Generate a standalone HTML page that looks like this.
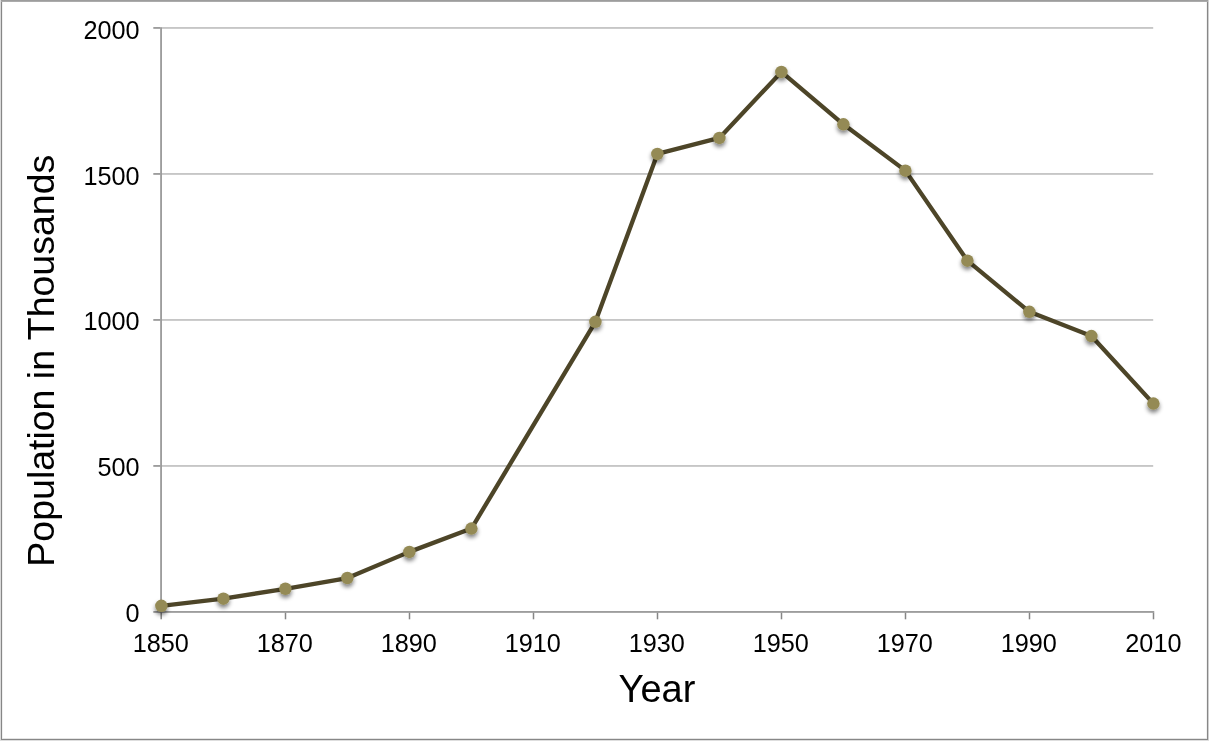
<!DOCTYPE html>
<html><head><meta charset="utf-8"><title>Population chart</title>
<style>
html,body{margin:0;padding:0;background:#fff;}
body{width:1209px;height:741px;overflow:hidden;}
svg{display:block;}
text{font-family:"Liberation Sans",Arial,Helvetica,sans-serif;fill:#000;}
.tick{font-size:26px;}
.title{font-size:38px;}
</style></head><body>
<svg width="1209" height="741" viewBox="0 0 1209 741">
<defs>
<filter id="sh" x="-5%" y="-5%" width="110%" height="115%">
<feGaussianBlur in="SourceAlpha" stdDeviation="2"/>
<feOffset dx="0" dy="3.2" result="b"/>
<feComponentTransfer><feFuncA type="linear" slope="0.5"/></feComponentTransfer>
<feMerge><feMergeNode/><feMergeNode in="SourceGraphic"/></feMerge>
</filter>
</defs>
<rect x="0" y="0" width="1209" height="741" fill="#fff"/>
<!-- outer border -->
<g shape-rendering="crispEdges">
<rect x="0" y="0" width="1" height="741" fill="#dadada"/>
<rect x="1208" y="0" width="1" height="741" fill="#d0d0d0"/>
<rect x="0" y="740" width="1209" height="1" fill="#dedede"/>
<rect x="2" y="2" width="1" height="737" fill="#f0f0f0"/>
<rect x="1206" y="2" width="1" height="737" fill="#f2f2f2"/>
<rect x="2" y="738" width="1205" height="1" fill="#e4e4e4"/>
<rect x="1" y="0" width="1" height="740" fill="#868686"/>
<rect x="1207" y="0" width="1" height="740" fill="#878787"/>
<rect x="1" y="739" width="1207" height="1" fill="#878787"/>
<rect x="1" y="0" width="1207" height="1" fill="#9d9d9d"/>
<rect x="1" y="1" width="1207" height="1" fill="#ababab"/>
</g>

<rect x="161.8" y="465.20" width="991.40" height="1.5" fill="#b8b8b8"/>
<rect x="161.8" y="319.20" width="991.40" height="1.5" fill="#b8b8b8"/>
<rect x="161.8" y="173.20" width="991.40" height="1.5" fill="#b8b8b8"/>
<rect x="161.8" y="27.20" width="991.40" height="1.5" fill="#b8b8b8"/>
<rect x="160.3" y="27.20" width="1.5" height="585.50" fill="#868686"/>
<rect x="153.3" y="611.20" width="1000.95" height="1.5" fill="#868686"/>
<rect x="153.3" y="465.20" width="7" height="1.5" fill="#868686"/>
<rect x="153.3" y="319.20" width="7" height="1.5" fill="#868686"/>
<rect x="153.3" y="173.20" width="7" height="1.5" fill="#868686"/>
<rect x="153.3" y="27.20" width="7" height="1.5" fill="#868686"/>
<rect x="160.45" y="612.70" width="1.5" height="6.6" fill="#868686"/>
<rect x="284.75" y="612.70" width="1.5" height="6.6" fill="#868686"/>
<rect x="408.75" y="612.70" width="1.5" height="6.6" fill="#868686"/>
<rect x="532.75" y="612.70" width="1.5" height="6.6" fill="#868686"/>
<rect x="656.75" y="612.70" width="1.5" height="6.6" fill="#868686"/>
<rect x="780.75" y="612.70" width="1.5" height="6.6" fill="#868686"/>
<rect x="904.75" y="612.70" width="1.5" height="6.6" fill="#868686"/>
<rect x="1028.75" y="612.70" width="1.5" height="6.6" fill="#868686"/>
<rect x="1152.75" y="612.70" width="1.5" height="6.6" fill="#868686"/>
<polyline fill="none" stroke="#4d4528" stroke-width="4.3" stroke-linejoin="round" stroke-linecap="round" points="161.40,605.86 223.40,598.68 285.40,588.76 347.40,578.03 409.40,551.88 471.40,528.57 595.40,321.85 657.40,153.95 719.40,137.95 781.40,71.93 843.40,124.32 905.40,170.65 967.40,260.63 1029.40,311.83 1091.40,336.06 1153.40,403.58"/>
<g filter="url(#sh)">
<circle cx="161.40" cy="605.86" r="6.25" fill="#948a54"/>
<circle cx="223.40" cy="598.68" r="6.25" fill="#948a54"/>
<circle cx="285.40" cy="588.76" r="6.25" fill="#948a54"/>
<circle cx="347.40" cy="578.03" r="6.25" fill="#948a54"/>
<circle cx="409.40" cy="551.88" r="6.25" fill="#948a54"/>
<circle cx="471.40" cy="528.57" r="6.25" fill="#948a54"/>
<circle cx="595.40" cy="321.85" r="6.25" fill="#948a54"/>
<circle cx="657.40" cy="153.95" r="6.25" fill="#948a54"/>
<circle cx="719.40" cy="137.95" r="6.25" fill="#948a54"/>
<circle cx="781.40" cy="71.93" r="6.25" fill="#948a54"/>
<circle cx="843.40" cy="124.32" r="6.25" fill="#948a54"/>
<circle cx="905.40" cy="170.65" r="6.25" fill="#948a54"/>
<circle cx="967.40" cy="260.63" r="6.25" fill="#948a54"/>
<circle cx="1029.40" cy="311.83" r="6.25" fill="#948a54"/>
<circle cx="1091.40" cy="336.06" r="6.25" fill="#948a54"/>
<circle cx="1153.40" cy="403.58" r="6.25" fill="#948a54"/>
</g>
<text class="tick" x="139.6" y="622.00" text-anchor="end" textLength="14.06" lengthAdjust="spacingAndGlyphs">0</text>
<text class="tick" x="139.6" y="476.00" text-anchor="end" textLength="42.17" lengthAdjust="spacingAndGlyphs">500</text>
<text class="tick" x="139.6" y="330.00" text-anchor="end" textLength="56.22" lengthAdjust="spacingAndGlyphs">1000</text>
<text class="tick" x="139.6" y="185.00" text-anchor="end" textLength="56.22" lengthAdjust="spacingAndGlyphs">1500</text>
<text class="tick" x="139.6" y="39.00" text-anchor="end" textLength="56.22" lengthAdjust="spacingAndGlyphs">2000</text>
<text class="tick" x="160.80" y="652" text-anchor="middle" textLength="56.22" lengthAdjust="spacingAndGlyphs">1850</text>
<text class="tick" x="284.80" y="652" text-anchor="middle" textLength="56.22" lengthAdjust="spacingAndGlyphs">1870</text>
<text class="tick" x="408.80" y="652" text-anchor="middle" textLength="56.22" lengthAdjust="spacingAndGlyphs">1890</text>
<text class="tick" x="532.80" y="652" text-anchor="middle" textLength="56.22" lengthAdjust="spacingAndGlyphs">1910</text>
<text class="tick" x="656.80" y="652" text-anchor="middle" textLength="56.22" lengthAdjust="spacingAndGlyphs">1930</text>
<text class="tick" x="780.80" y="652" text-anchor="middle" textLength="56.22" lengthAdjust="spacingAndGlyphs">1950</text>
<text class="tick" x="904.80" y="652" text-anchor="middle" textLength="56.22" lengthAdjust="spacingAndGlyphs">1970</text>
<text class="tick" x="1028.80" y="652" text-anchor="middle" textLength="56.22" lengthAdjust="spacingAndGlyphs">1990</text>
<text class="tick" x="1153.40" y="652" text-anchor="middle" textLength="56.22" lengthAdjust="spacingAndGlyphs">2010</text>
<text class="title" x="657" y="702" text-anchor="middle">Year</text>
<text class="title" style="font-size:37.6px" transform="translate(54.4,360.7) rotate(-90)" text-anchor="middle" textLength="412" lengthAdjust="spacing">Population in Thousands</text>
</svg></body></html>
